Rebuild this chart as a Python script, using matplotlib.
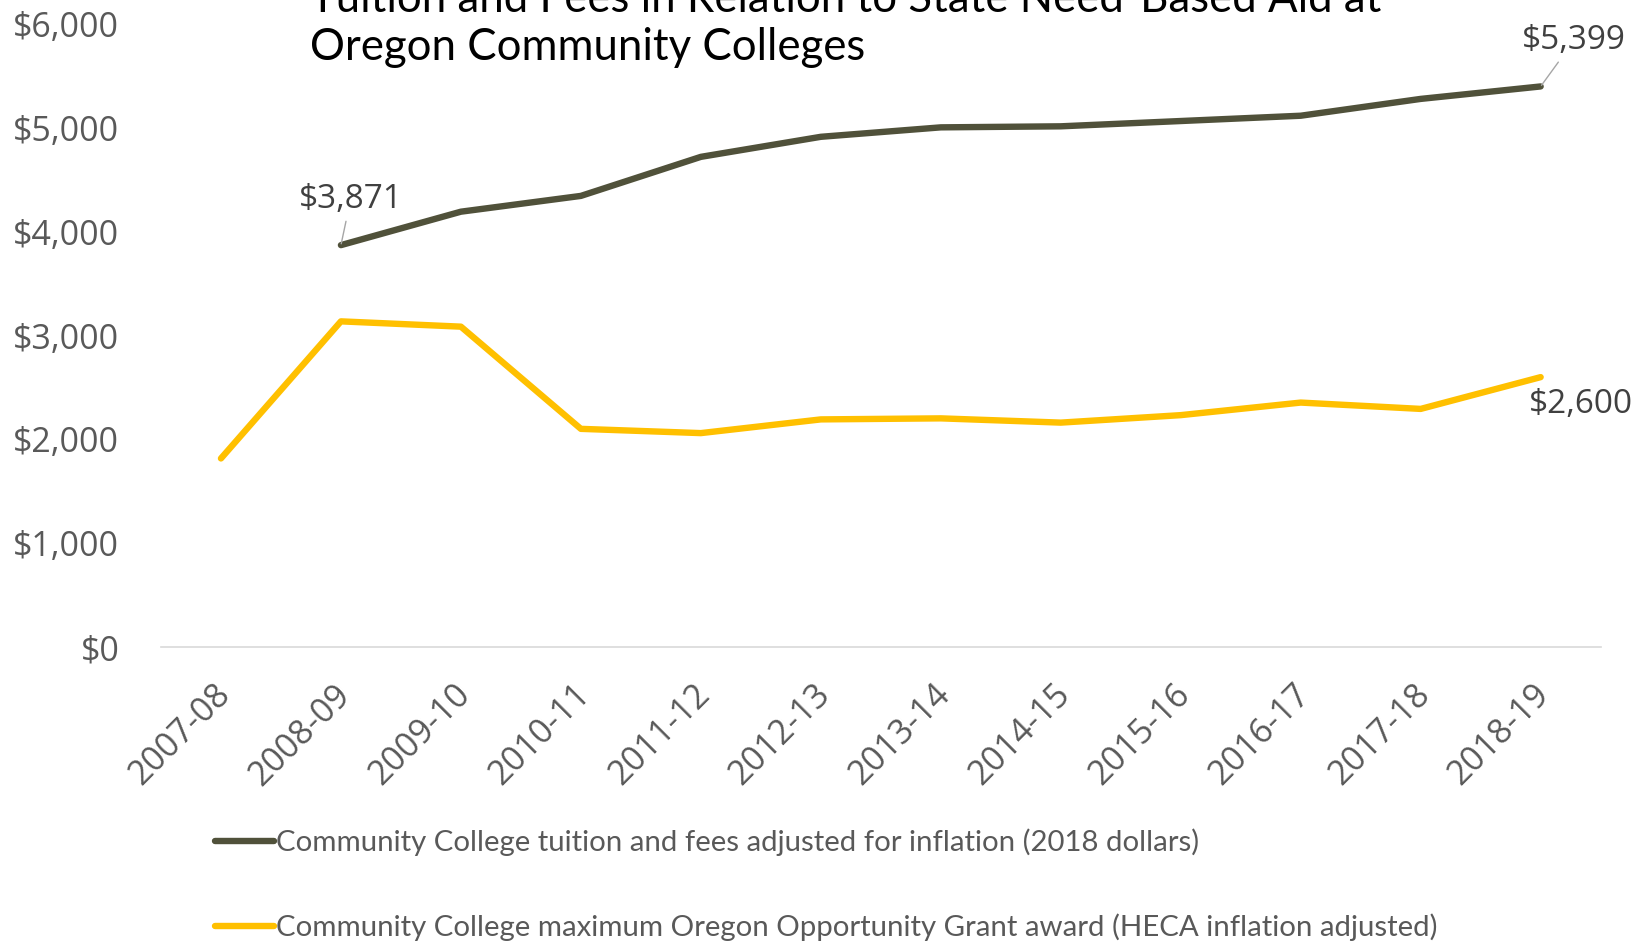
import matplotlib.pyplot as plt
from matplotlib.ticker import FuncFormatter
from matplotlib.transforms import ScaledTranslation

# school years on the category axis
years = ['2007-08', '2008-09', '2009-10', '2010-11', '2011-12', '2012-13',
         '2013-14', '2014-15', '2015-16', '2016-17', '2017-18', '2018-19']

# tuition and fees (2018 dollars), no value for 2007-08
tuition = [None, 3871, 4193, 4345, 4721, 4914, 5005, 5015, 5066, 5117, 5279, 5399]

# max Oregon Opportunity Grant award (HECA inflation adjusted)
grant = [1817, 3137, 3086, 2102, 2061, 2193, 2203, 2162, 2234, 2355, 2294, 2600]

label_tuition = 'Community College tuition and fees adjusted for inflation (2018 dollars)'
label_grant = 'Community College maximum Oregon Opportunity Grant award (HECA inflation adjusted)'
title = 'Tuition and Fees in Relation to State Need-Based Aid at\nOregon Community Colleges'

dark = '#50513A'
gold = '#FFC000'
grey = '#595959'
tick_font = ['Open Sans', 'DejaVu Sans']

fig = plt.figure(figsize=(16.51, 9.42), dpi=100)
ax = fig.add_axes([0.0975, 0.313, 0.872, 0.6615])

x = list(range(len(years)))
xt = [i for i, v in zip(x, tuition) if v is not None]
yt = [v for v in tuition if v is not None]

ln1, = ax.plot(xt, yt, color=dark, lw=4.6, solid_capstyle='round',
               solid_joinstyle='round', label=label_tuition)
ln2, = ax.plot(x, grant, color=gold, lw=4.6, solid_capstyle='round',
               solid_joinstyle='round', label=label_grant)

ax.set_xlim(-0.5, len(years) - 0.5)
ax.set_ylim(0, 6000)
ax.set_yticks(range(0, 6001, 1000))
ax.yaxis.set_major_formatter(FuncFormatter(lambda v, p: '${:,.0f}'.format(v)))
ax.set_xticks(x)
ax.set_xticklabels(years, rotation=45, ha='right', rotation_mode='anchor')

for s in ['top', 'right', 'left']:
    ax.spines[s].set_visible(False)
ax.spines['bottom'].set_color('#d9d9d9')
ax.spines['bottom'].set_linewidth(1.2)
ax.tick_params(length=0)
ax.tick_params(axis='y', pad=30)
ax.tick_params(axis='x', pad=22)
shift = ScaledTranslation(-0.08, 0, fig.dpi_scale_trans)
for t in ax.get_xticklabels():
    t.set_transform(t.get_transform() + shift)
for t in ax.get_xticklabels() + ax.get_yticklabels():
    t.set_family(tick_font)
    t.set_fontsize(24.5)
    t.set_color(grey)

# data labels
lead = dict(arrowstyle='-', color='#a6a6a6', lw=1, shrinkA=2, shrinkB=1)
ax.annotate('$3,871', (1, 3871), xytext=(7, 33), textcoords='offset points',
            ha='center', va='center', fontsize=24, color='#404040',
            family=tick_font, arrowprops=lead)
ax.annotate('$5,399', (11, 5399), xytext=(24, 33), textcoords='offset points',
            ha='center', va='center', fontsize=24, color='#404040',
            family=tick_font, arrowprops=lead)
ax.annotate('$2,600', (11, 2600), xytext=(29, -20), textcoords='offset points',
            ha='center', va='center', fontsize=24, color='#404040',
            family=tick_font)

fig.text(310 / 1651, 1 - 60 / 942, title, ha='left', va='baseline',
         fontsize=31.5, family=['Lato', 'DejaVu Sans'], color='black',
         linespacing=1.22)

fig.legend(handles=[ln1, ln2], loc='center left', bbox_to_anchor=(0.13, 0.061),
           frameon=False, labelspacing=1.95, handlelength=2.0, handletextpad=0.1,
           borderpad=0, borderaxespad=0,
           prop={'family': ['Liberation Sans Narrow', 'Lato', 'DejaVu Sans'], 'size': 21.2},
           labelcolor=grey)

fig.savefig('out.png', dpi=100)
